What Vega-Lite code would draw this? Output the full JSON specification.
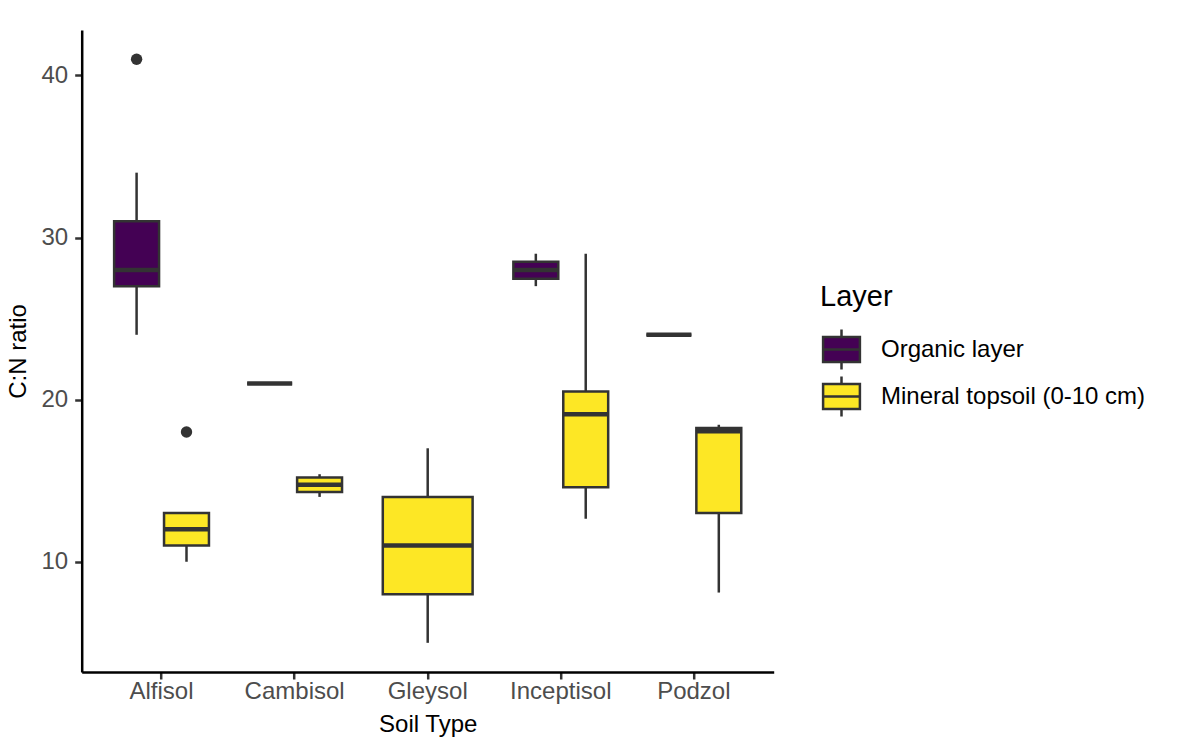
{
  "$schema": "https://vega.github.io/schema/vega-lite/v6.json",
  "width": 692,
  "height": 642,
  "autosize": {"type": "none"},
  "padding": {"left": 81.7, "top": 30, "right": 406.3, "bottom": 66},
  "background": "white",
  "config": {
    "view": {"stroke": null},
    "font": "Liberation Sans",
    "axis": {
      "grid": false,
      "domainColor": "black",
      "domainWidth": 2.5,
      "tickColor": "#333333",
      "tickWidth": 2.5,
      "tickSize": 7,
      "labelFont": "Liberation Sans",
      "labelFontSize": 24,
      "labelColor": "#4d4d4d",
      "titleFont": "Liberation Sans",
      "titleFontSize": 24,
      "titleFontWeight": "normal",
      "titleColor": "black"
    },
    "legend": {
      "titleFont": "Liberation Sans",
      "titleFontSize": 29,
      "titleFontWeight": "normal",
      "titleColor": "black",
      "labelFont": "Liberation Sans",
      "labelFontSize": 24,
      "labelColor": "black",
      "labelLimit": 500
    }
  },
  "datasets": {
    "boxes": [
      {"soil": "Alfisol", "layer": "Organic layer", "lower": 24, "q1": 27, "median": 28, "q3": 31, "upper": 34},
      {"soil": "Alfisol", "layer": "Mineral topsoil (0-10 cm)", "lower": 10, "q1": 11, "median": 12, "q3": 13, "upper": 13},
      {"soil": "Cambisol", "layer": "Organic layer", "lower": 21, "q1": 21, "median": 21, "q3": 21, "upper": 21},
      {"soil": "Cambisol", "layer": "Mineral topsoil (0-10 cm)", "lower": 14.0, "q1": 14.3, "median": 14.75, "q3": 15.2, "upper": 15.4},
      {"soil": "Gleysol", "layer": "Mineral topsoil (0-10 cm)", "lower": 5, "q1": 8, "median": 11, "q3": 14, "upper": 17},
      {"soil": "Inceptisol", "layer": "Organic layer", "lower": 27, "q1": 27.45, "median": 28, "q3": 28.5, "upper": 29},
      {"soil": "Inceptisol", "layer": "Mineral topsoil (0-10 cm)", "lower": 12.65, "q1": 14.6, "median": 19.1, "q3": 20.5, "upper": 29},
      {"soil": "Podzol", "layer": "Organic layer", "lower": 24, "q1": 24, "median": 24, "q3": 24, "upper": 24},
      {"soil": "Podzol", "layer": "Mineral topsoil (0-10 cm)", "lower": 8.1, "q1": 13, "median": 18.05, "q3": 18.25, "upper": 18.45}
    ],
    "outliers": [
      {"soil": "Alfisol", "layer": "Organic layer", "value": 41},
      {"soil": "Alfisol", "layer": "Mineral topsoil (0-10 cm)", "value": 18}
    ]
  },
  "data": {"name": "boxes"},
  "encoding": {
    "x": {
      "field": "soil",
      "type": "nominal",
      "title": "Soil Type",
      "scale": {
        "domain": ["Alfisol", "Cambisol", "Gleysol", "Inceptisol", "Podzol"],
        "paddingInner": 0.25,
        "paddingOuter": 0.225
      },
      "axis": {"labelAngle": 0, "labelPadding": 0, "titlePadding": 9}
    }
  },
  "layer": [
    {
      "transform": [{"filter": "datum.soil !== 'Gleysol'"}],
      "mark": {"type": "rule", "color": "#333333", "strokeWidth": 2.5},
      "encoding": {
        "xOffset": {"field": "layer", "type": "nominal", "scale": {"domain": ["Organic layer", "Mineral topsoil (0-10 cm)"], "paddingInner": 0.1, "paddingOuter": 0.05}},
        "y": {
          "field": "lower",
          "type": "quantitative",
          "title": "C:N ratio",
          "scale": {"domain": [3.2, 42.8], "nice": false, "zero": false},
          "axis": {"values": [10, 20, 30, 40], "labelPadding": 7, "titlePadding": 11}
        },
        "y2": {"field": "upper"}
      }
    },
    {
      "transform": [{"filter": "datum.soil === 'Gleysol'"}],
      "mark": {"type": "rule", "color": "#333333", "strokeWidth": 2.5},
      "encoding": {
        "y": {"field": "lower", "type": "quantitative", "title": "C:N ratio"},
        "y2": {"field": "upper"}
      }
    },
    {
      "transform": [{"filter": "datum.soil !== 'Gleysol'"}],
      "mark": {"type": "bar", "stroke": "#333333", "strokeWidth": 2.5},
      "encoding": {
        "xOffset": {"field": "layer", "type": "nominal"},
        "y": {"field": "q1", "type": "quantitative", "title": "C:N ratio"},
        "y2": {"field": "q3"},
        "fill": {
          "field": "layer",
          "type": "nominal",
          "title": "Layer",
          "scale": {"domain": ["Organic layer", "Mineral topsoil (0-10 cm)"], "range": ["#440154", "#FDE725"]},
          "legend": {
            "orient": "none",
            "legendX": 738.3,
            "legendY": 253,
            "titlePadding": 16,
            "symbolType": "M-0.92,-0.62H0.92V0.62H-0.92Z M-0.92,0H0.92 M0,-1V-0.62 M0,0.62V1",
            "symbolSize": 1600,
            "symbolStrokeColor": "#333333",
            "symbolStrokeWidth": 2.5,
            "symbolOpacity": 1,
            "labelOffset": 18,
            "rowPadding": -4
          }
        }
      }
    },
    {
      "transform": [{"filter": "datum.soil === 'Gleysol'"}],
      "mark": {"type": "bar", "stroke": "#333333", "strokeWidth": 2.5, "width": {"band": 0.9}},
      "encoding": {
        "y": {"field": "q1", "type": "quantitative", "title": "C:N ratio"},
        "y2": {"field": "q3"},
        "fill": {"field": "layer", "type": "nominal", "title": "Layer"}
      }
    },
    {
      "transform": [{"filter": "datum.soil !== 'Gleysol'"}],
      "mark": {"type": "tick", "color": "#333333", "thickness": 4.5, "size": 45, "opacity": 1},
      "encoding": {
        "xOffset": {"field": "layer", "type": "nominal"},
        "y": {"field": "median", "type": "quantitative", "title": "C:N ratio"}
      }
    },
    {
      "transform": [{"filter": "datum.soil === 'Gleysol'"}],
      "mark": {"type": "tick", "color": "#333333", "thickness": 4.5, "size": 90, "opacity": 1},
      "encoding": {
        "y": {"field": "median", "type": "quantitative", "title": "C:N ratio"}
      }
    },
    {
      "data": {"name": "outliers"},
      "mark": {"type": "point", "filled": true, "color": "#333333", "size": 130, "opacity": 1},
      "encoding": {
        "xOffset": {"field": "layer", "type": "nominal"},
        "y": {"field": "value", "type": "quantitative", "title": "C:N ratio"}
      }
    }
  ]
}
